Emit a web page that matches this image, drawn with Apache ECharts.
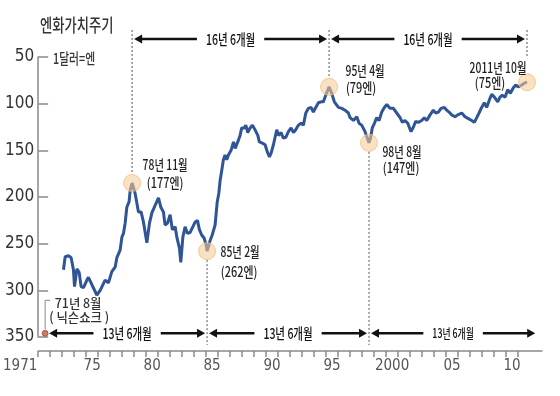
<!DOCTYPE html>
<html><head><meta charset="utf-8">
<script src="https://cdn.jsdelivr.net/npm/echarts@6/dist/echarts.min.js"></script>
<style>html,body{margin:0;padding:0;background:#fff}#c{width:560px;height:396px}</style>
</head><body><div id="c"></div>
<script>
// ---- data ----
const years = [1973.11,1973.25,1973.53,1973.75,1973.94,1974.03,1974.23,1974.42,1974.58,1974.78,
1975.06,1975.19,1975.48,1975.89,1976.17,1976.58,1976.86,1977.14,1977.42,1977.56,1977.83,1977.98,
1978.11,1978.25,1978.39,1978.58,1978.67,1978.83,1979.08,1979.36,1979.58,1979.78,1980.06,1980.28,
1980.48,1980.75,1981.03,1981.23,1981.44,1981.58,1981.78,1982.00,1982.19,1982.42,1982.56,1982.78,
1982.89,1983.06,1983.25,1983.44,1983.67,1983.89,1984.08,1984.28,1984.44,1984.64,1984.83,1985.00,
1985.08,1985.30,1985.50,1985.75,1985.92,1986.06,1986.17,1986.31,1986.44,1986.58,1986.72,1986.86,
1987.08,1987.28,1987.42,1987.64,1987.83,1987.97,1988.19,1988.31,1988.47,1988.67,1988.86,1989.08,
1989.31,1989.44,1989.64,1989.92,1990.11,1990.28,1990.42,1990.61,1990.75,1990.89,1991.03,1991.25,
1991.44,1991.64,1991.86,1992.08,1992.28,1992.47,1992.69,1992.92,1993.11,1993.31,1993.53,1993.75,
1993.94,1994.14,1994.36,1994.58,1994.78,1994.97,1995.25,1995.47,1995.69,1996.03,1996.31,1996.58,
1996.86,1997.00,1997.28,1997.56,1997.75,1997.97,1998.25,1998.58,1998.72,1998.85,1999.03,1999.22,
1999.42,1999.64,1999.86,2000.06,2000.33,2000.61,2000.89,2001.17,2001.36,2001.58,2001.81,2002.08,
2002.28,2002.47,2002.69,2002.97,2003.19,2003.39,2003.67,2003.94,2004.14,2004.36,2004.58,2004.86,
2005.06,2005.25,2005.47,2005.75,2005.97,2006.31,2006.58,2006.86,2007.14,2007.36,2007.56,2007.75,
2007.97,2008.19,2008.39,2008.67,2008.81,2009.03,2009.31,2009.50,2009.69,2009.92,2010.14,2010.36,
2010.61,2010.81,2011.03,2011.31,2011.53,2011.75];
const yen = [278,264,263,265,278,296,277,281,296,297,
289,286,294,305,300,289,292,280,275,265,257,243,
239,228,211,205,193,185,196,216,216,227,249,228,
217,209,201,211,216,230,228,219,235,232,243,255,
270,243,232,239,238,232,227,225,235,241,244,251,
258,248,241,230,206,196,182,171,160,155,160,155,
150,141,148,141,134,126,126,123,131,126,123,128,
134,141,142,144,152,157,153,144,136,128,134,131,
137,136,130,126,131,128,123,121,123,110,105,104,
109,104,99,98,98,91,82,89,98,104,105,107,
110,115,118,114,121,123,130,142,136,126,121,115,
118,109,104,101,105,105,110,115,120,118,121,130,
125,119,120,118,115,118,112,107,110,109,105,104,
107,109,112,114,112,110,114,116,118,120,115,110,
104,99,104,94,90,93,98,93,91,93,85,89,
83,80,82,80,78,77];
const tickYears = [];
for (let y = 1971; y <= 2011; y++) tickYears.push(y);
const xLabelYears = [1971,1975,1980,1985,1990,1995,2000,2005,2010];
const xLabelTexts = ['1971','75','80','85','90','95','2000','05','10'];
const eventYears  = [1978.83, 1985.08, 1995.25, 1998.58, 2011.75];
const eventValues = [185, 258, 82, 142, 77];
const eventDates  = ['78년 11월','85년 2월','95년 4월','98년 8월','2011년 10월'];
const eventRates  = ['(177엔)','(262엔)','(79엔)','(147엔)','(75엔)'];
const nixonPoint  = [1971.58, 346];
const nixonTexts  = ['71년 8월','( 닉슨쇼크 )'];
const topSpans    = [[1978.83,1995.25],[1995.25,2011.75]];
const topSpanTexts = ['16년 6개월','16년 6개월'];
const bottomSpans = [[1971.58,1985.08],[1985.08,1998.58],[1998.58,2012.6]];
const bottomSpanTexts = ['13년 6개월','13년 6개월','13년 6개월'];
const titleText = '엔화가치주기';
const unitText = '1달러=엔';

// ---- layout / style ----
const NARROW = "'Liberation Sans Narrow','Arial Narrow','DejaVu Sans Condensed',sans-serif";
const KR = "'Noto Sans CJK KR',sans-serif";
const labelOffsets = [ // [dx1,dy1,dx2,dy2] relative to event point
  [33,-18,33,0],[33,1,32,21],[36,-16,32,1],[33,9,32,25],[-29,-15,-37,0]
];

const chart = echarts.init(document.getElementById('c'), null, {renderer:'canvas'});
const lineData = years.map((y,i)=>[y, yen[i]]);
const option = {
  animation:false,
  backgroundColor:'#fff',
  grid:{left:38, right:18, top:57, bottom:59},
  xAxis:{type:'value', min:1971, max:2013, interval:1, offset:14,
    axisLine:{show:true, lineStyle:{color:'#8a8a8a', width:1.5}},
    axisTick:{show:true, length:6, customValues:tickYears, lineStyle:{color:'#8a8a8a', width:1.5}},
    splitLine:{show:false},
    axisLabel:{margin:8, color:'#555', fontSize:15, fontFamily:NARROW,
      formatter:function(v){
        const i = xLabelYears.indexOf(Math.round(v));
        if (i < 0 || Math.abs(v - Math.round(v)) > 1e-6) return '';
        return i === 0 ? '{l|' + xLabelTexts[i] + '}' : '{r|' + xLabelTexts[i] + '}';
      },
      rich:{
        l:{padding:[0,36,0,0], color:'#555', fontSize:15, fontFamily:NARROW},
        r:{padding:[0,0,0,12], color:'#555', fontSize:15, fontFamily:NARROW}
      }}
  },
  yAxis:{type:'value', inverse:true, min:50, max:350, interval:50,
    axisLine:{show:true, lineStyle:{color:'#8a8a8a', width:1.5}},
    axisTick:{show:true, inside:true, length:10, lineStyle:{color:'#8a8a8a', width:1.5}},
    axisLabel:{color:'#333', fontSize:17, fontFamily:NARROW, margin:4},
    splitLine:{show:false}
  },
  series:[
    {type:'line', data:lineData, showSymbol:false, symbol:'none', z:2,
      lineStyle:{color:'#2f5597', width:3}, clip:false},
    {type:'scatter', data:eventYears.map((y,i)=>[y, eventValues[i]]), symbolSize:17, z:5,
      itemStyle:{color:'rgba(247,203,150,0.72)', borderColor:'#efbf86', borderWidth:1}, clip:false},
    {type:'scatter', data:[nixonPoint], symbolSize:6, z:6,
      itemStyle:{color:'#c2573e', borderColor:'#8c3826', borderWidth:0.8}, clip:false}
  ]
};
chart.setOption(option);

const px = y => chart.convertToPixel({xAxisIndex:0}, y);
const py = v => chart.convertToPixel({yAxisIndex:0}, v);
const ctx = document.createElement('canvas').getContext('2d');
function tw(text, size, fam){ ctx.font = '500 ' + size + 'px ' + fam; return ctx.measureText(text).width; }
const g = [];
function txt(x, y, text, size, sx, color, align, fam){
  fam = fam || KR;
  g.push({type:'text', x:x, y:y, scaleX:sx, z:100,
    style:{text:text, fill:color||'#222', fontSize:size, fontFamily:fam, fontWeight:500,
      align:align||'center', verticalAlign:'middle', textAlign:align||'center', textVerticalAlign:'middle'}});
}
function line(x1,y1,x2,y2,opt){
  g.push({type:'line', z:90, shape:{x1:x1,y1:y1,x2:x2,y2:y2},
    style:Object.assign({stroke:'#111', lineWidth:2.5}, opt||{})});
}
function head(x, y, dir){ // dir -1 left, +1 right
  g.push({type:'polygon', z:91, shape:{points:[[x,y],[x-dir*8,y-4.5],[x-dir*8,y+4.5]]}, style:{fill:'#111'}});
}
function arrow(x1, x2, y, text, size, sx){
  const w = tw(text, size, KR) * sx;
  const cx = (x1 + x2) / 2;
  head(x1, y, -1); head(x2, y, 1);
  line(x1 + 6, y, cx - w/2 - 9, y);
  line(cx + w/2 + 9, y, x2 - 6, y);
  txt(cx, y, text, size, sx, '#111');
}

// title & unit
txt(40, 25, titleText, 18, 0.74, '#333', 'left');
txt(53, py(50) + 1, unitText, 15, 0.72, '#333', 'left');

// dotted guide lines
const dot = {stroke:'#555', lineWidth:1, lineDash:[2,2]};
const topY = 30, botY = 345;
line(px(eventYears[0]), topY, px(eventYears[0]), py(eventValues[0]) - 9, dot);
line(px(eventYears[2]), topY, px(eventYears[2]), py(eventValues[2]) - 9, dot);
line(px(eventYears[4]), topY, px(eventYears[4]), py(50) - 1, dot);
line(px(eventYears[1]), py(eventValues[1]) + 9, px(eventYears[1]), botY, dot);
line(px(eventYears[3]), py(eventValues[3]) + 9, px(eventYears[3]), botY, dot);

// span arrows
topSpans.forEach((s,i)=> arrow(px(s[0]) + 2, px(s[1]) - 2, 39, topSpanTexts[i], 15, 0.7));
const botArrowY = py(nixonPoint[1]);
bottomSpans.forEach((s,i)=> arrow(px(s[0]) + (i === 0 ? 4 : 2), px(s[1]) - 2, botArrowY,
  bottomSpanTexts[i], i === 2 ? 13 : 15, i === 2 ? 0.68 : 0.7));

// event labels
eventYears.forEach((y,i)=>{
  const x0 = px(y), y0 = py(eventValues[i]), o = labelOffsets[i];
  txt(x0 + o[0], y0 + o[1], eventDates[i], 14, 0.74, '#222');
  txt(x0 + o[2], y0 + o[3], eventRates[i], 14, 0.78, '#222');
});

// nixon shock
const nx = px(nixonPoint[0]), ny = py(nixonPoint[1]);
g.push({type:'polyline', z:80, shape:{points:[[nx, ny - 4],[nx, ny - 33],[nx + 5, ny - 33]]},
  style:{stroke:'#888', lineWidth:1, fill:null}});
txt(nx + 33, ny - 30, nixonTexts[0], 13, 0.95, '#333');
txt(nx + 34, ny - 16, nixonTexts[1], 13, 0.95, '#333');

chart.setOption({graphic:{elements:g}});
</script></body></html>
